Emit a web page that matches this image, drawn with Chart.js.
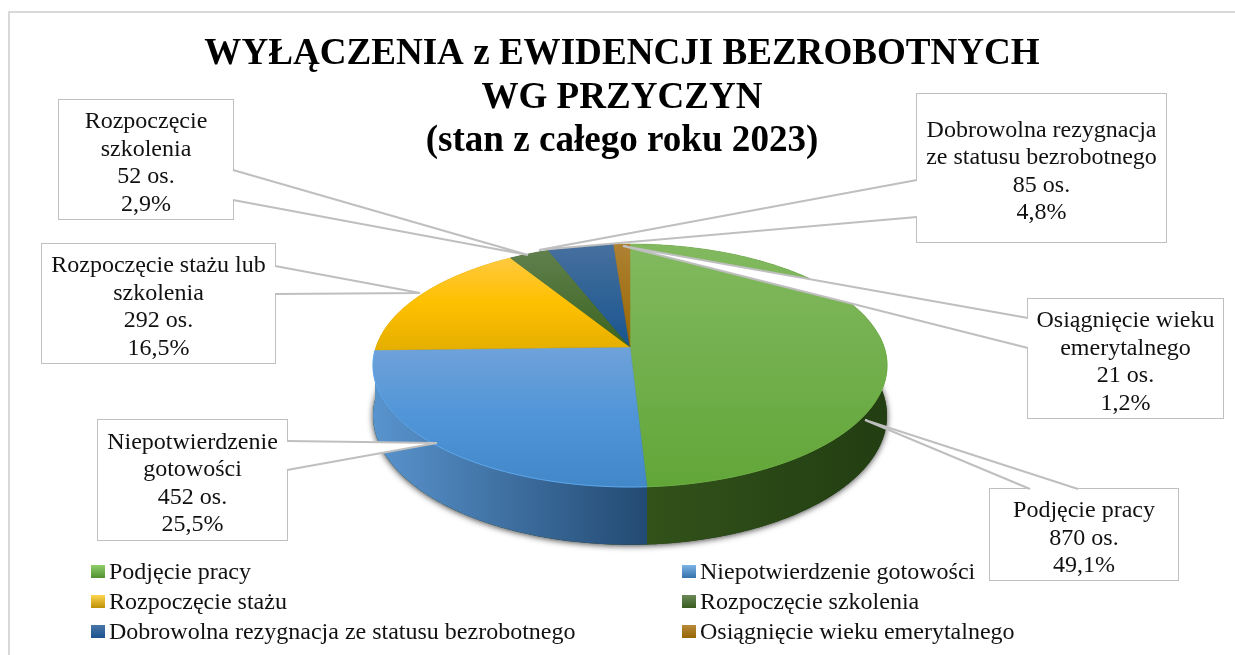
<!DOCTYPE html>
<html lang="pl"><head><meta charset="utf-8">
<style>html,body{margin:0;padding:0;background:#fff}canvas{display:block}</style>
<script src="https://cdn.jsdelivr.net/npm/chart.js@4"></script></head>
<body><canvas id="c" width="1235" height="655"></canvas>
<script>
const titleLines = ['WYŁĄCZENIA z EWIDENCJI BEZROBOTNYCH','WG PRZYCZYN','(stan z całego roku 2023)'];
const categories = ['Podjęcie pracy','Niepotwierdzenie gotowości','Rozpoczęcie stażu','Rozpoczęcie szkolenia','Dobrowolna rezygnacja ze statusu bezrobotnego','Osiągnięcie wieku emerytalnego'];
const values = [870,452,292,52,85,21];
const percents = ['49,1%','25,5%','16,5%','2,9%','4,8%','1,2%'];
const calloutNames = [['Podjęcie pracy'],['Niepotwierdzenie','gotowości'],['Rozpoczęcie stażu lub','szkolenia'],['Rozpoczęcie','szkolenia'],['Dobrowolna rezygnacja','ze statusu bezrobotnego'],['Osiągnięcie wieku','emerytalnego']];

const FONT = '"Liberation Serif","Times New Roman",serif';
const topColors = [['#82b95f','#72af4c','#62a638'],['#6fa2d9','#5095d8','#4287c8'],['#ffc93f','#ffc000','#e6b000'],['#5f7f4c','#3b641f'],['#47709e','#18558f'],['#ae8234','#9a6600']];
const wallColors = [['#32521a','#223e12'],['#5994ce','#234a72'],['#a8830a','#a8830a'],['#2f4a19','#2f4a19'],['#1a3e63','#1a3e63'],['#6b4a05','#6b4a05']];
const gradY = [[244,487],[347,487],[258,347],[253,347],[244,347],[244,347]];
const wallX = [[647,887],[373,647],[373,511],[511,550],[550,620],[620,630]];
const swatch = [['#8fd06a','#4d8a2c'],['#7db4e6','#2f6ba6'],['#ffd54f','#b88a00'],['#6b8a58','#35591c'],['#4a76a8','#16508c'],['#b88a3a','#946200']];
const P = {x0:630,y0:347,a:254,b:118.7,k:0.152,D:49};
const proj = (ang,r,z)=>{const u=Math.cos(ang)*r,v=Math.sin(ang)*r,w=1-P.k*v;return [P.x0+P.a*u/w,P.y0+(P.b*v+P.D*z)/w];};
const arcPts = (s,e,z)=>{const n=Math.max(4,Math.ceil((e-s)*80)),o=[];for(let i=0;i<=n;i++)o.push(proj(s+(e-s)*i/n,1,z));return o;};
const tracePts = (ctx,pts,first)=>pts.forEach((p,i)=>(i===0&&first)?ctx.moveTo(p[0],p[1]):ctx.lineTo(p[0],p[1]));
const boxes = [
 {x:990,y:489,w:188,h:91,wedge:[[1030,489],[865,420],[1078,489]]},
 {x:98,y:420,w:189,h:120,wedge:[[287,441],[437,443],[287,470]]},
 {x:42,y:244,w:233,h:119,wedge:[[275,266],[420,293],[275,294]]},
 {x:59,y:100,w:174,h:119,wedge:[[233,170],[528,255],[233,200]]},
 {x:917,y:94,w:249,h:148,wedge:[[917,180],[539,250],[917,217]]},
 {x:1028,y:299,w:195,h:119,wedge:[[1028,318],[623,246],[1028,348]]}
];
const boxOrder = [0,1,2,3,4,5];
const textOffset = 10;
const legendPos = [[91,572],[682,572],[91,602],[682,602],[91,632],[682,632]];

const pie3d = {
 id:'pie3d',
 beforeDraw(chart){
  const c=chart.ctx;c.save();c.fillStyle='#fff';c.fillRect(0,0,1235,655);
  c.strokeStyle='#d9d9d9';c.lineWidth=2;c.strokeRect(9,12,1240,660);c.restore();
 },
 beforeDatasetDraw(chart,args){
  const c=chart.ctx,arcs=chart.getDatasetMeta(args.index).data;
  c.save();
  c.save();c.shadowColor='rgba(0,0,0,.75)';c.shadowBlur=6;c.shadowOffsetY=1;c.fillStyle='#223d12';
  c.beginPath();tracePts(c,arcPts(0,Math.PI*2,1),true);c.closePath();c.fill();c.restore();
  [...arcs].reverse().forEach((el,ri)=>{
   const i=arcs.length-1-ri;
   const {startAngle:s,endAngle:e}=el.getProps(['startAngle','endAngle'],true);
   const g=c.createLinearGradient(wallX[i][0],0,wallX[i][1],0);
   g.addColorStop(0,wallColors[i][0]);g.addColorStop(1,wallColors[i][1]);
   c.fillStyle=g;c.beginPath();tracePts(c,arcPts(s,e,0),true);tracePts(c,arcPts(s,e,1).reverse(),false);c.closePath();c.fill();
  });
  arcs.forEach((el,i)=>{
   const {startAngle:s,endAngle:e}=el.getProps(['startAngle','endAngle'],true);
   const g=c.createLinearGradient(0,gradY[i][0],0,gradY[i][1]);
   topColors[i].forEach((col,j,a)=>g.addColorStop(j/(a.length-1),col));
   c.fillStyle=g;c.strokeStyle=g;c.lineWidth=.5;
   c.beginPath();c.moveTo(P.x0,P.y0);tracePts(c,arcPts(s,e,0),false);c.closePath();c.fill();c.stroke();
   if(i<2){c.strokeStyle=i===1?'#5fa9ee':'#6fb045';c.lineWidth=1;c.beginPath();tracePts(c,arcPts(Math.max(s,-0.1),Math.min(e,Math.PI),0),true);c.stroke();}
  });
  c.restore();
  return false;
 },
 afterDraw(chart){
  const c=chart.ctx;c.save();
  boxOrder.forEach(i=>{
   const b=boxes[i];
   c.beginPath();c.rect(b.x,b.y,b.w,b.h);
   c.fillStyle='#fff';c.strokeStyle='#bfbfbf';c.lineWidth=2;c.stroke();c.fill();
   c.beginPath();c.moveTo(...b.wedge[0]);c.lineTo(...b.wedge[1]);c.lineTo(...b.wedge[2]);c.closePath();c.fill();
   c.beginPath();c.moveTo(...b.wedge[0]);c.lineTo(...b.wedge[1]);c.lineTo(...b.wedge[2]);c.stroke();
   c.fillStyle='#111';c.font='24px '+FONT;c.textAlign='center';c.textBaseline='alphabetic';
   const lines=[...calloutNames[i],values[i]+' os.',percents[i]],n=lines.length,lh=27.5,cy=b.y+b.h/2;
   lines.forEach((t,j)=>c.fillText(t,b.x+b.w/2,cy-(n/2-j-.5)*lh+textOffset));
  });
  categories.forEach((t,i)=>{
   const [x,y]=legendPos[i];
   const g=c.createLinearGradient(0,y-7,0,y+7);g.addColorStop(0,swatch[i][0]);g.addColorStop(1,swatch[i][1]);
   c.fillStyle=g;c.fillRect(x,y-7,14,13);
   c.fillStyle='#111';c.font='24px '+FONT;c.textAlign='left';c.textBaseline='alphabetic';
   c.fillText(t,x+18,y+7);
  });
  c.restore();
 }
};

new Chart(document.getElementById('c'),{
 type:'pie',
 data:{labels:categories,datasets:[{data:values,backgroundColor:topColors.map(p=>p[0]),borderWidth:0}]},
 options:{responsive:false,animation:false,devicePixelRatio:1,rotation:0,
  layout:{padding:{left:9,top:0}},
  plugins:{legend:{display:false},tooltip:{enabled:false},
   title:{display:true,text:titleLines,color:'#000',font:{family:FONT,size:37.1,weight:'bold',lineHeight:1.17},padding:{top:33,bottom:0}}}},
 plugins:[pie3d]
});
</script></body></html>
